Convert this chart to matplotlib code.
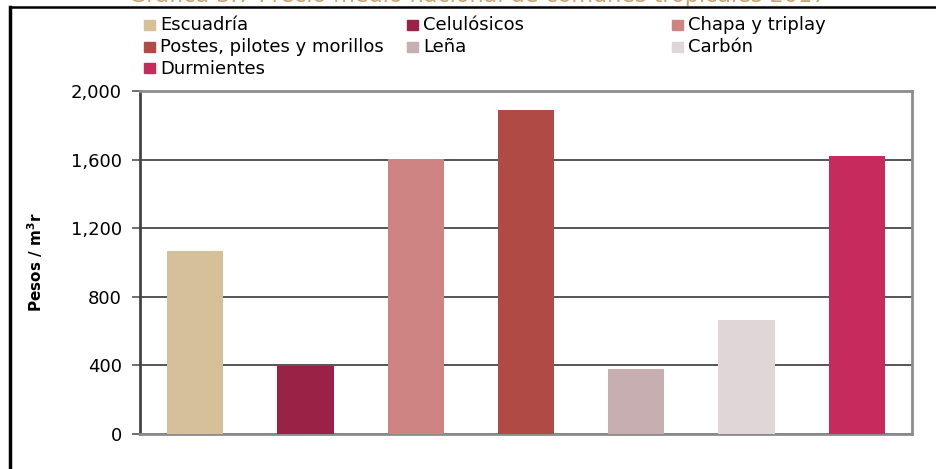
import matplotlib.pyplot as plt
from matplotlib.patches import Rectangle
from matplotlib.lines import Line2D
from matplotlib.ticker import FuncFormatter

categories = ["Escuadría", "Celulósicos", "Chapa y triplay",
              "Postes, pilotes y morillos", "Leña", "Carbón", "Durmientes"]
values = [1067, 398, 1603, 1889, 379, 665, 1621]
colors = ["#D5C09A", "#9B2247", "#CD8483", "#B04A45", "#C6AEB1", "#E0D6D8", "#C72B5E"]
yticks = [0, 400, 800, 1200, 1600, 2000]
title = "Gráfica 3.7 Precio medio nacional de comunes tropicales 2017"
ylabel = "Pesos / m$^{\\mathbf{3}}$r"

plt.rcParams['font.family'] = ['DejaVu Sans']

W, H = 937, 469
fig = plt.figure(figsize=(W / 100, H / 100), dpi=100)


def fx(px):
    return px / W


def fy(py):
    return 1 - py / H


# frame around the chart (only top and left visible)
fig.add_artist(Line2D([fx(10), fx(10)], [fy(7), 0], color="black", lw=2.5, transform=fig.transFigure))
fig.add_artist(Line2D([fx(10), 1], [fy(7), fy(7)], color="black", lw=1.8, transform=fig.transFigure))

# title, mostly cut off at the top edge as in the source
fig.text(fx(478), fy(2), title, color="#C9A46F", fontsize=16, ha="center", va="baseline")

ax = fig.add_axes([fx(140), fy(434), fx(912 - 140), fy(91) - fy(434)])
x = range(len(categories))
ax.bar(x, values, width=0.51, color=colors, zorder=3)

ax.set_xlim(-0.5, len(categories) - 0.5)
ax.set_ylim(0, 2000)
ax.set_yticks(yticks)
ax.yaxis.set_major_formatter(FuncFormatter(lambda v, p: f"{int(v):,}"))
ax.set_xticks([])
ax.tick_params(axis="y", length=6, width=1.2, color="#555555", pad=7, labelsize=13)
ax.grid(axis="y", color="#555555", lw=1.4, zorder=1)

for side in ["top", "right", "bottom"]:
    ax.spines[side].set_color("#8C8C8C")
    ax.spines[side].set_linewidth(2)
ax.spines["left"].set_color("#444444")
ax.spines["left"].set_linewidth(2)

fig.text(fx(35), (fy(91) + fy(434)) / 2, ylabel, rotation=90, fontsize=11,
         fontweight="bold", ha="center", va="center")

# legend laid out row by row in three equal columns
col_x = [144, 407, 672]
row_y = [25.5, 47, 68.5]
for i, (name, c) in enumerate(zip(categories, colors)):
    r, k = divmod(i, 3)
    fig.patches.append(Rectangle((fx(col_x[k]), fy(row_y[r] + 5)), fx(11), fy(0) - fy(10),
                                 color=c, transform=fig.transFigure))
    fig.text(fx(col_x[k] + 16), fy(row_y[r]), name, fontsize=13, va="center", ha="left")

fig.savefig("out.png", dpi=100)
